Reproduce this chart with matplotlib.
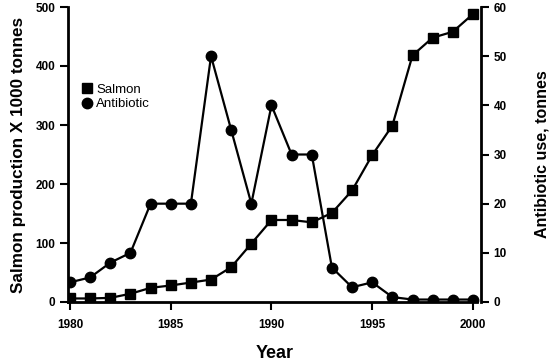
import matplotlib
matplotlib.use("Agg")
import matplotlib.pyplot as plt

years = list(range(1980, 2001))
salmon = [6, 6, 7, 14, 24, 28, 33, 38, 59, 99, 139, 139, 135, 151, 189, 249, 299, 418, 448, 458, 488]
antibiotic = [4, 5, 8, 10, 20, 20, 20, 50, 35, 20, 40, 30, 30, 7, 3, 4, 1, 0.5, 0.5, 0.5, 0.5]
x_ticks = [1980, 1985, 1990, 1995, 2000]
left_ticks = [0, 100, 200, 300, 400, 500]
right_ticks = [0, 10, 20, 30, 40, 50, 60]

plt.rcParams['font.family'] = ['Liberation Sans', 'DejaVu Sans']

fig = plt.figure(figsize=(5.5, 3.64), dpi=100)
ax = fig.add_axes([68/550, 1 - 302/364, (481 - 68)/550, (302 - 7)/364])
ax2 = ax.twinx()

lw = 1.6
ln1, = ax.plot(years, salmon, color='black', lw=lw, marker='s', markersize=7.5, zorder=3)
ln2, = ax2.plot(years, antibiotic, color='black', lw=lw, marker='o', markersize=7.5, zorder=3)

ax.set_xlim(1979.9, 2000.4)
ax.set_ylim(0, 500)
ax2.set_ylim(0, 60)
ax.set_xticks(x_ticks)
ax.set_yticks(left_ticks)
ax2.set_yticks(right_ticks)

for a in (ax, ax2):
    a.spines['top'].set_visible(False)
    for s in a.spines.values():
        s.set_linewidth(2)
    a.tick_params(width=1.5, length=6, labelsize=8.5, pad=3)
    for lab in a.get_xticklabels() + a.get_yticklabels():
        lab.set_fontweight('bold')
ax.tick_params(axis='x', pad=6)
ax.spines['right'].set_visible(False)
ax2.spines['left'].set_visible(False)
ax2.spines['bottom'].set_visible(False)
ax.spines['bottom'].set_bounds(1979.9, 2000.2)

ax.set_xlabel('Year', fontsize=13, fontweight='bold', labelpad=10)
ax.set_ylabel('Salmon production X 1000 tonnes', fontsize=12.3, fontweight='bold', labelpad=7)
ax2.set_ylabel('Antibiotic use, tonnes', fontsize=11.5, fontweight='bold', labelpad=20)

leg = fig.legend([ln1, ln2], ['Salmon', 'Antibiotic'], loc='upper left',
                 bbox_to_anchor=(70/550, 1 - 72/364), frameon=False, fontsize=9.5,
                 handlelength=0.8, handletextpad=0.3, labelspacing=0.15)
for h in leg.legend_handles:
    h.set_linestyle('None')

fig.savefig('out.png', dpi=100)
